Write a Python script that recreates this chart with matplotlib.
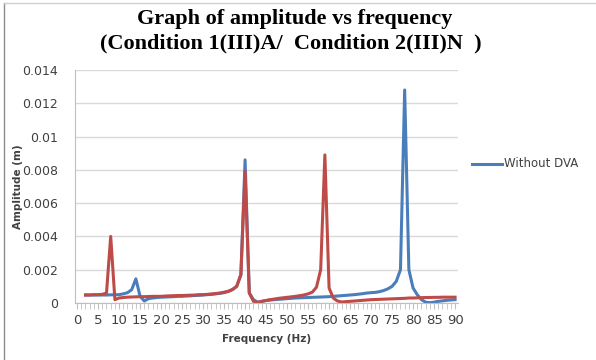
import numpy as np
import matplotlib
matplotlib.use("Agg")
import matplotlib.pyplot as plt
from matplotlib.lines import Line2D

# frequencies (Hz) and amplitudes (m)
freq = list(range(2, 91))

without_dva = [
    0.00048, 0.00048, 0.00048, 0.00048, 0.00048, 0.00048, 0.00049, 0.0005, 0.0005,   # 2-10
    0.00055, 0.00062, 0.0008, 0.00145, 0.0004, 0.00012, 0.00026, 0.0003, 0.00033, 0.00035,  # 11-20
    0.00036, 0.00037, 0.00038, 0.0004, 0.0004, 0.00042, 0.00043, 0.00045, 0.00046, 0.00048,  # 21-30
    0.0005, 0.00052, 0.00055, 0.00058, 0.00062, 0.0007, 0.00082, 0.001, 0.0017, 0.0086,  # 31-40
    0.0006, 0.0002, 0.00005, 0.0001, 0.00015, 0.00018, 0.0002, 0.00022, 0.00024, 0.00026,  # 41-50
    0.00028, 0.0003, 0.00031, 0.00032, 0.00033, 0.00034, 0.00035, 0.00036, 0.00037, 0.00038,  # 51-60
    0.0004, 0.00042, 0.00044, 0.00046, 0.00048, 0.0005, 0.00053, 0.00056, 0.0006, 0.00062,  # 61-70
    0.00064, 0.00068, 0.00075, 0.00085, 0.001, 0.0013, 0.002, 0.0128, 0.002, 0.0009,  # 71-80
    0.0005, 0.0002, 0.00005, 0.00002, 0.00005, 0.0001, 0.00013, 0.00016, 0.00018, 0.0002,  # 81-90
]

with_dva = [
    0.00048, 0.00048, 0.0005, 0.0005, 0.00052, 0.0006, 0.004, 0.0002, 0.0003,  # 2-10
    0.00033, 0.00035, 0.00036, 0.00037, 0.00038, 0.00038, 0.00039, 0.0004, 0.0004, 0.0004,  # 11-20
    0.00042, 0.00043, 0.00044, 0.00045, 0.00045, 0.00046, 0.00047, 0.00048, 0.0005, 0.0005,  # 21-30
    0.00052, 0.00054, 0.00057, 0.0006, 0.00065, 0.0007, 0.0008, 0.001, 0.0017, 0.0079,  # 31-40
    0.0006, 0.0001, 0.00003, 0.0001, 0.00015, 0.0002, 0.00024, 0.00028, 0.00031, 0.00034,  # 41-50
    0.00037, 0.0004, 0.00044, 0.00048, 0.00055, 0.00065, 0.00095, 0.002, 0.0089, 0.0009,  # 51-60
    0.0003, 0.00012, 0.00006, 0.00008, 0.0001, 0.00012, 0.00014, 0.00016, 0.00018, 0.0002,  # 61-70
    0.00021, 0.00022, 0.00023, 0.00024, 0.00025, 0.00026, 0.00027, 0.00028, 0.0003, 0.0003,  # 71-80
    0.00031, 0.00032, 0.00033, 0.00033, 0.00034, 0.00034, 0.00035, 0.00035, 0.00035, 0.00035,  # 81-90
]

yticks = [0, 0.002, 0.004, 0.006, 0.008, 0.01, 0.012, 0.014]
ytick_labels = ["0", "0.002", "0.004", "0.006", "0.008", "0.01", "0.012", "0.014"]
xticks = list(range(0, 91, 5))

blue = "#4a7ebb"
red = "#be4b48"

fig = plt.figure(figsize=(5.96, 3.6), dpi=100)
ax = fig.add_axes([75 / 596, 57 / 360, 383 / 596, 233 / 360])

ax.plot(freq, without_dva, color=blue, lw=2.2, solid_joinstyle="round")
ax.plot(freq, with_dva, color=red, lw=2.2, solid_joinstyle="round")

ax.set_xlim(-0.5, 90.7)
ax.set_ylim(0, 0.014)
ax.set_yticks(yticks)
ax.set_yticklabels(ytick_labels)
ax.set_xticks(xticks)
ax.set_xticks(range(0, 91), minor=True)
ax.grid(axis="y", color="#d9d9d9", lw=1)
ax.set_axisbelow(True)

for s in ["top", "right"]:
    ax.spines[s].set_visible(False)
ax.spines["left"].set_color("#bfbfbf")
ax.spines["bottom"].set_color("#bfbfbf")
ax.tick_params(axis="y", length=0, pad=12, labelsize=9, labelcolor="#404040")
ax.tick_params(axis="x", which="major", length=4, color="#bfbfbf", pad=4,
               labelsize=9.5, labelcolor="#404040")
ax.tick_params(axis="x", which="minor", length=4, color="#bfbfbf")

ax.set_xlabel("Frequency (Hz)", fontsize=7.5, fontweight="bold", color="#404040", labelpad=5)
ax.set_ylabel("Amplitude (m)", fontsize=7.5, fontweight="bold", color="#404040")
ax.yaxis.set_label_coords(-52 / 383, 0.5)

fig.text(0.495, 1 - 19 / 360, "Graph of amplitude vs frequency", ha="center", va="center",
         family="Liberation Serif", fontweight="bold", fontsize=16)
fig.text(0.488, 1 - 43 / 360, "(Condition 1(III)A/  Condition 2(III)N  )", ha="center", va="center",
         family="Liberation Serif", fontweight="bold", fontsize=16)

# legend (only the blue series shows)
fig.add_artist(Line2D([472 / 596, 502 / 596], [1 - 164 / 360] * 2, color=blue, lw=2.2))
fig.text(504 / 596, 1 - 164 / 360, "Without DVA", va="center", fontsize=8.5, color="#404040")

# chart frame
fig.add_artist(Line2D([4 / 596, 4 / 596], [0, 1 - 3 / 360], color="#8c8c8c", lw=1))
fig.add_artist(Line2D([4 / 596, 1], [1 - 3 / 360] * 2, color="#d0d0d0", lw=1))

fig.savefig("out.png", dpi=100)
